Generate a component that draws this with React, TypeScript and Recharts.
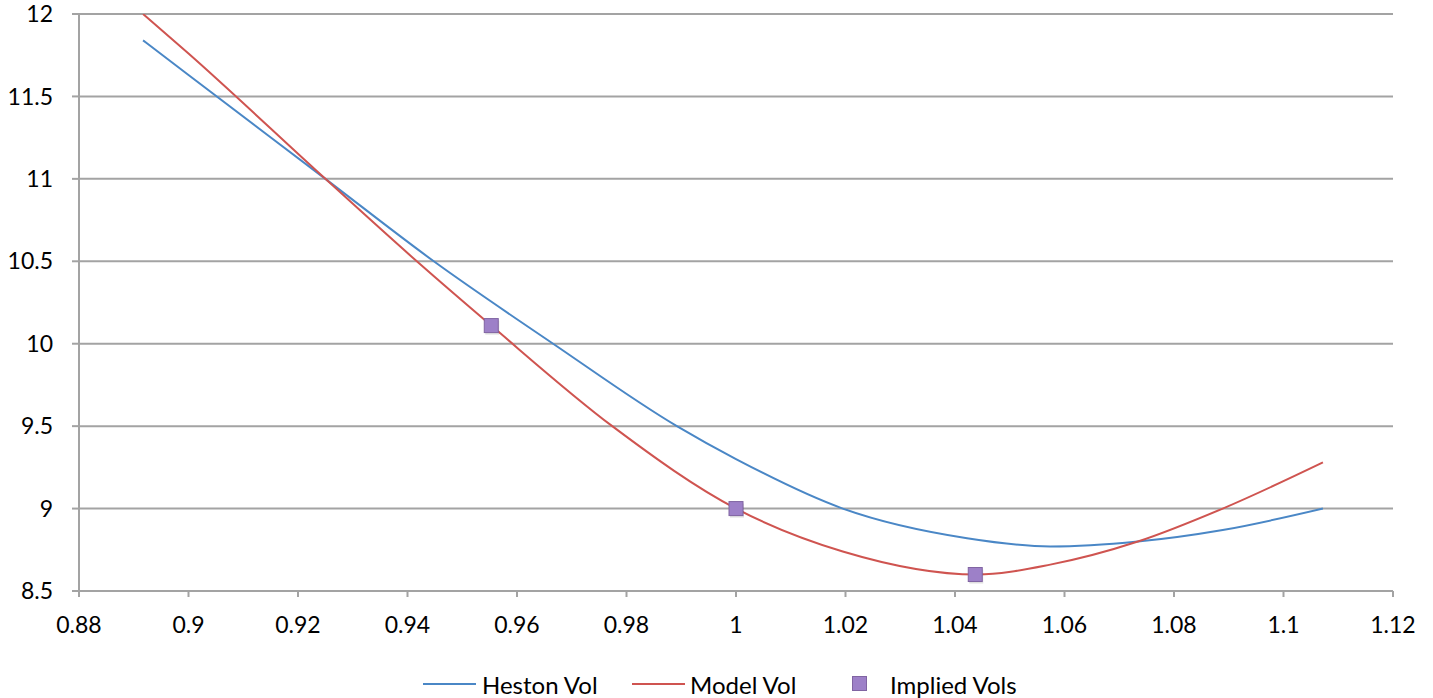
import {
  ComposedChart, Line, Scatter, XAxis, YAxis, CartesianGrid, Legend,
} from 'recharts'

const xTicks = [0.88, 0.9, 0.92, 0.94, 0.96, 0.98, 1, 1.02, 1.04, 1.06, 1.08, 1.1, 1.12]
const yTicks = [8.5, 9, 9.5, 10, 10.5, 11, 11.5, 12]

const hestonX = [0.8917, 0.9, 0.925, 0.9448, 0.9666, 0.9892, 1.0, 1.0195, 1.0422, 1.0574, 1.0734, 1.0889, 1.1072]
const hestonY = [11.84, 11.63, 11.0, 10.5, 10.0, 9.5, 9.3, 9.0, 8.82, 8.77, 8.8, 8.87, 9.0]

const modelX = [0.8917, 0.9, 0.925, 0.9417, 0.9553, 0.9774, 1.0, 1.0195, 1.044, 1.0574, 1.0734, 1.0889, 1.1072]
const modelY = [12.0, 11.76, 11.0, 10.5, 10.11, 9.5, 9.0, 8.74, 8.6, 8.66, 8.8, 9.0, 9.28]

const impliedX = [0.9553, 1.0, 1.0437]
const impliedY = [10.11, 9.0, 8.6]

const heston = hestonX.map((x, i) => ({ x, y: hestonY[i] }))
const model = modelX.map((x, i) => ({ x, y: modelY[i] }))
const implied = impliedX.map((x, i) => ({ x, y: impliedY[i] }))

const BLUE = '#4a87c6'
const RED = '#cf5450'
const GRID = '#a3a3a3'
const FONT = 'Lato, "Open Sans", sans-serif'

const Square = (props: any) => {
  const { cx, cy } = props
  return (
    <g>
      <rect x={cx - 6} y={cy - 5} width={14} height={14} fill="#000" opacity={0.12} />
      <rect x={cx - 7} y={cy - 7} width={14} height={14} fill="#9d80c8" stroke="#8064a2" strokeWidth={1} />
    </g>
  )
}

// legend items placed where the reference has them
const LegendBox = () => (
  <div style={{ position: 'relative', width: 620, height: 30, fontFamily: FONT, fontSize: 24, color: '#000' }}>
    <span style={{ position: 'absolute', left: 0, top: 17, width: 53, height: 2, background: BLUE }} />
    <span style={{ position: 'absolute', left: 59, top: 7, lineHeight: '24px', whiteSpace: 'nowrap' }}>Heston Vol</span>
    <span style={{ position: 'absolute', left: 209, top: 17, width: 53, height: 2, background: RED }} />
    <span style={{ position: 'absolute', left: 267, top: 7, lineHeight: '24px', whiteSpace: 'nowrap' }}>Model Vol</span>
    <span style={{ position: 'absolute', left: 429, top: 10, width: 13, height: 13, background: '#9d80c8', border: '1px solid #8064a2' }} />
    <span style={{ position: 'absolute', left: 467, top: 7, lineHeight: '24px', whiteSpace: 'nowrap' }}>Implied Vols</span>
  </div>
)

export default function App() {
  return (
    <div style={{ position: 'absolute', left: 0, top: 0 }}>
      <ComposedChart width={1433} height={698} margin={{ top: 14, right: 40, left: 19, bottom: 2 }}>
        <CartesianGrid vertical={false} stroke={GRID} strokeWidth={2} />
        <XAxis
          type="number"
          dataKey="x"
          domain={[0.88, 1.12]}
          ticks={xTicks}
          allowDataOverflow
          height={75}
          stroke={GRID}
          strokeWidth={2}
          tickSize={6}
          tickMargin={20}
          tick={{ fill: '#000', fontSize: 23, fontFamily: FONT }}
          tickFormatter={(v: number) => String(Number(v.toFixed(2)))}
        />
        <YAxis
          type="number"
          dataKey="y"
          domain={[8.5, 12]}
          ticks={yTicks}
          allowDataOverflow
          width={60}
          stroke={GRID}
          strokeWidth={2}
          tickSize={7}
          tickMargin={19}
          tick={{ fill: '#000', fontSize: 23, fontFamily: FONT }}
        />
        <Legend
          verticalAlign="bottom"
          content={<LegendBox />}
          wrapperStyle={{ left: 423, width: 620, height: 30 }}
        />
        <Line data={heston} dataKey="y" type="monotone" stroke={BLUE} strokeWidth={2} dot={false} isAnimationActive={false} />
        <Line data={model} dataKey="y" type="monotone" stroke={RED} strokeWidth={2} dot={false} isAnimationActive={false} />
        <Scatter data={implied} dataKey="y" shape={<Square />} isAnimationActive={false} />
      </ComposedChart>
    </div>
  )
}
